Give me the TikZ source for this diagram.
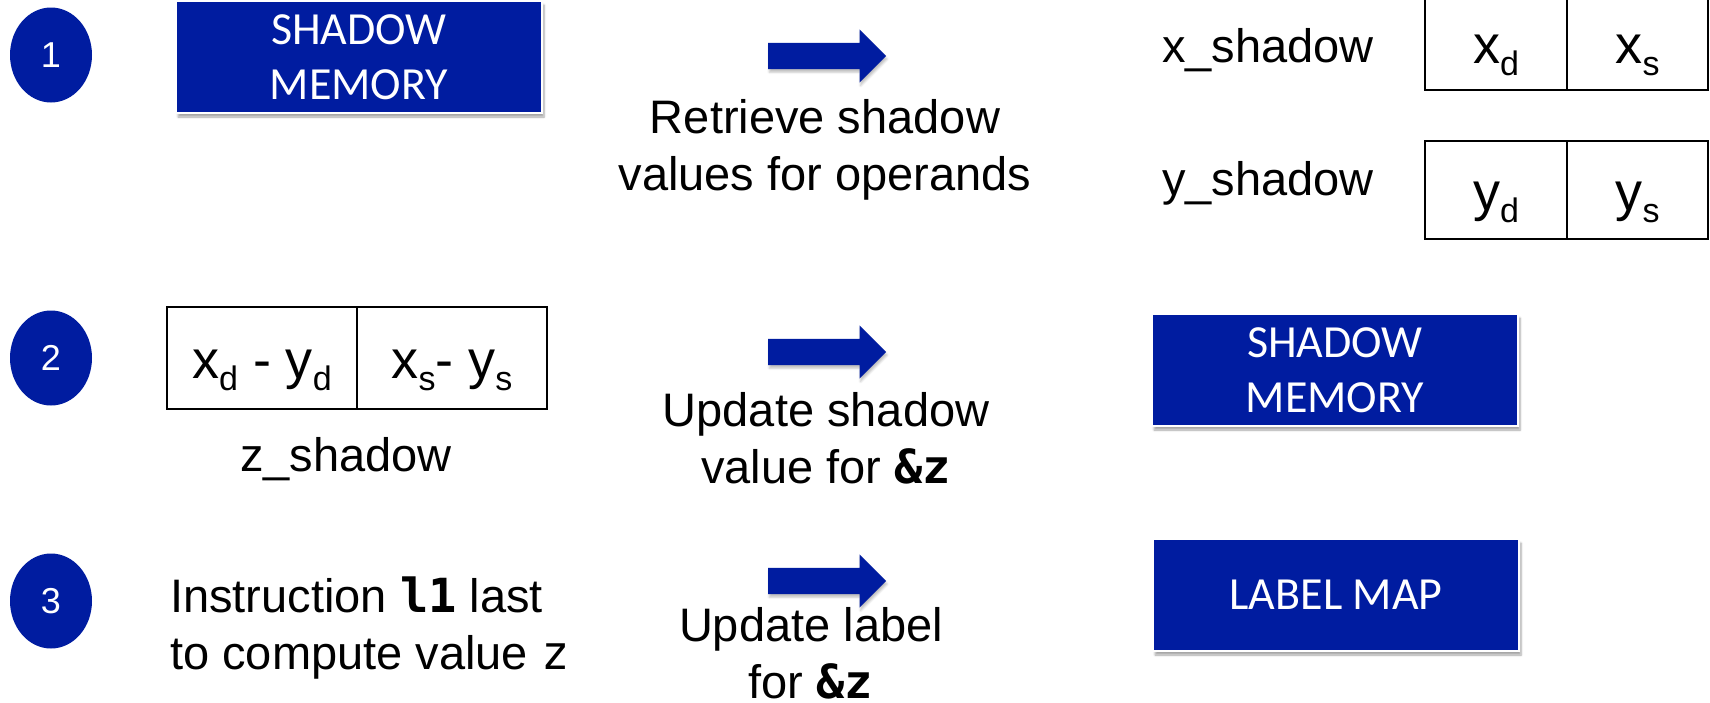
\documentclass[tikz,border=0pt]{standalone}
\usepackage{fontspec}
\setmainfont{Liberation Sans}
\setmonofont{DejaVu Sans Mono}
\newfontfamily\boxfont{Carlito}
\usetikzlibrary{positioning,shapes.geometric,shapes.arrows,shadows.blur}

\definecolor{stepblue}{RGB}{0,28,160}
\newcommand{\subidx}[1]{\raisebox{-12pt}{\fontsize{34}{34}\selectfont #1}}

\tikzset{
  stepnum/.style={ellipse, fill=stepblue, text=white, inner sep=0pt,
    minimum width=82pt, minimum height=95pt, font=\fontsize{36}{36}\selectfont},
  memory/.style={rectangle, fill=stepblue, draw=white, line width=1.5pt, text=white,
    align=center, minimum width=366pt, minimum height=112pt,
    font=\boxfont\fontsize{46}{55}\selectfont,
    blur shadow={shadow xshift=2pt, shadow yshift=-4pt, shadow blur steps=6, shadow opacity=35}},
  cell/.style={draw, line width=1.5pt, outer sep=0pt, inner sep=0pt,
    text height=44pt, text depth=4pt, font=\fontsize{54}{54}\selectfont},
  bigarrow/.style={single arrow, fill=stepblue, inner sep=0pt, inner ysep=13pt,
    minimum height=118pt, single arrow head extend=13.5pt, single arrow tip angle=90,
    blur shadow={shadow xshift=1pt, shadow yshift=-3pt, shadow blur steps=4, shadow opacity=25}},
  caption/.style={inner sep=0pt, align=center, font=\fontsize{47}{57}\selectfont},
}

\begin{document}
\begin{tikzpicture}[x=1pt,y=-1pt]
\useasboundingbox (0,0) rectangle (1710,702);

% step numbers
\node [stepnum] (s1) at (51,55) {1};
\node [stepnum] (s2) at (51,358) {2};
\node [stepnum] (s3) at (51,601) {3};

% step 1
\node [memory] (mem1) at (359,57) {SHADOW\\MEMORY};
\node [bigarrow, anchor=tail] (a1) at (768,56) {};
\node [caption] (retrieve) at (825,150) {Retrieve shadow\\values for operands};

\node [caption, anchor=base] (xname) at (1268,62) {x\_shadow};
\node [cell, minimum width=142pt, minimum height=93pt] (xd) at (1496,43.5) {x\subidx{d}};
\node [cell, minimum width=141pt, minimum height=93pt, right=0pt of xd] (xs) {x\subidx{s}};

\node [caption, anchor=base] (yname) at (1268,195) {y\_shadow};
\node [cell, minimum width=142pt, minimum height=98pt] (yd) at (1496,190) {y\subidx{d}};
\node [cell, minimum width=141pt, minimum height=98pt, right=0pt of yd] (ys) {y\subidx{s}};

% step 2
\node [cell, minimum width=190pt, minimum height=102pt] (zd) at (262,358) {x\subidx{d} - y\subidx{d}};
\node [cell, minimum width=190pt, minimum height=102pt, right=0pt of zd] (zs) {x\subidx{s}- y\subidx{s}};
\node [caption, anchor=base] (zname) at (346,471) {z\_shadow};

\node [bigarrow, anchor=tail] (a2) at (768,352) {};
\node [caption] (upshadow) at (826,438) {Update shadow\\value for \texttt{\bfseries\&z}};
\node [memory] (mem2) at (1335,370) {SHADOW\\MEMORY};

% step 3
\node [caption, align=left, anchor=west] (instr) at (170,628) {Instruction \texttt{\bfseries l1} last\\to compute value \texttt{z}};
\node [bigarrow, anchor=tail] (a3) at (768,581) {};
\node [caption] (uplabel) at (811,653) {Update label\\for \texttt{\bfseries\&z}};
\node [memory] (lmap) at (1336,595) {LABEL MAP};
\end{tikzpicture}
\end{document}
